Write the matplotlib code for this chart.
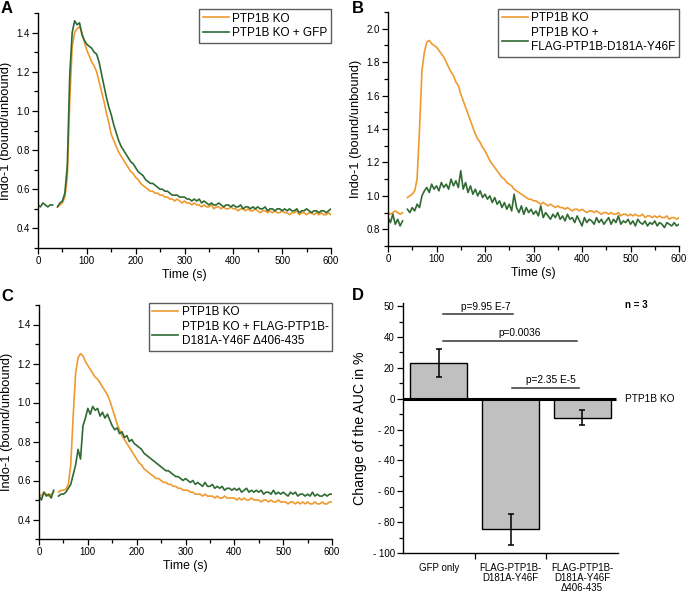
import numpy as np
import matplotlib
matplotlib.use("Agg")
import matplotlib.pyplot as plt
from matplotlib.ticker import MultipleLocator

plt.rcParams['font.family'] = ['Liberation Sans', 'DejaVu Sans']

ORANGE = '#ee9a2e'
GREEN = '#2f6a33'
nan = np.nan

# sampling times of the Indo-1 traces (s)
time_s = np.arange(0, 601, 5)

# panel A
a_ko = [
    nan, nan, nan, nan, nan, nan, nan, nan, 0.51, 0.52,
    0.53, 0.56, 0.66, 1.05, 1.33, 1.40, 1.42, 1.43, 1.40, 1.35,
    1.31, 1.28, 1.25, 1.23, 1.20, 1.15, 1.10, 1.05, 0.99, 0.94,
    0.88, 0.85, 0.82, 0.79, 0.77, 0.75, 0.73, 0.71, 0.69, 0.68,
    0.66, 0.65, 0.63, 0.62, 0.61, 0.60, 0.59, 0.59, 0.58, 0.58,
    0.57, 0.57, 0.56, 0.56, 0.55, 0.55, 0.54, 0.55, 0.54, 0.53,
    0.54, 0.53, 0.53, 0.52, 0.53, 0.52, 0.52, 0.51, 0.52, 0.51,
    0.51, 0.52, 0.50, 0.51, 0.51, 0.50, 0.51, 0.50, 0.50, 0.51,
    0.50, 0.50, 0.49, 0.50, 0.50, 0.49, 0.50, 0.49, 0.49, 0.50,
    0.49, 0.48, 0.49, 0.49, 0.48, 0.49, 0.48, 0.49, 0.48, 0.48,
    0.49, 0.48, 0.48, 0.47, 0.48, 0.48, 0.49, 0.47, 0.48, 0.48,
    0.47, 0.48, 0.48, 0.47, 0.48, 0.47, 0.48, 0.47, 0.47, 0.48,
    0.47]
a_gfp = [
    0.52, 0.51, 0.53, 0.52, 0.51, 0.52, 0.52, nan, 0.51, 0.53,
    0.54, 0.58, 0.72, 1.18, 1.40, 1.46, 1.44, 1.45, 1.39, 1.36,
    1.34, 1.33, 1.32, 1.30, 1.29, 1.25, 1.19, 1.13, 1.07, 1.02,
    0.98, 0.93, 0.89, 0.85, 0.82, 0.80, 0.78, 0.76, 0.74, 0.73,
    0.71, 0.69, 0.68, 0.67, 0.65, 0.64, 0.63, 0.63, 0.62, 0.61,
    0.60, 0.60, 0.59, 0.59, 0.58, 0.57, 0.57, 0.57, 0.56, 0.56,
    0.56, 0.55, 0.55, 0.54, 0.55, 0.54, 0.55, 0.53, 0.54, 0.53,
    0.52, 0.53, 0.52, 0.52, 0.53, 0.52, 0.51, 0.52, 0.52, 0.51,
    0.52, 0.51, 0.51, 0.52, 0.50, 0.51, 0.51, 0.50, 0.51, 0.50,
    0.51, 0.50, 0.50, 0.51, 0.49, 0.50, 0.50, 0.49, 0.50, 0.50,
    0.49, 0.50, 0.49, 0.50, 0.49, 0.49, 0.50, 0.48, 0.49, 0.49,
    0.50, 0.49, 0.48, 0.49, 0.49, 0.48, 0.49, 0.49, 0.48, 0.49,
    0.50]

# panel B
b_ko = [
    0.90, 0.89, 0.90, 0.91, 0.90, 0.89, 0.90, nan, 0.99, 1.00,
    1.01, 1.03, 1.10, 1.40, 1.75, 1.86, 1.92, 1.93, 1.91, 1.90,
    1.89, 1.87, 1.85, 1.83, 1.80, 1.77, 1.74, 1.72, 1.68, 1.66,
    1.61, 1.57, 1.53, 1.49, 1.45, 1.41, 1.37, 1.34, 1.32, 1.29,
    1.27, 1.24, 1.21, 1.19, 1.17, 1.15, 1.13, 1.11, 1.10, 1.08,
    1.07, 1.06, 1.04, 1.03, 1.02, 1.01, 1.00, 0.99, 0.98, 0.98,
    0.97, 0.97, 0.96, 0.95, 0.96, 0.95, 0.94, 0.95, 0.94, 0.93,
    0.94, 0.93, 0.93, 0.92, 0.93, 0.92, 0.91, 0.92, 0.92, 0.91,
    0.92, 0.91, 0.90, 0.91, 0.91, 0.90, 0.91, 0.90, 0.89, 0.90,
    0.90, 0.89, 0.90, 0.89, 0.89, 0.90, 0.88, 0.89, 0.89, 0.88,
    0.89, 0.88, 0.89, 0.88, 0.88, 0.89, 0.87, 0.88, 0.88, 0.87,
    0.88, 0.87, 0.88, 0.87, 0.87, 0.88, 0.86, 0.87, 0.87, 0.86,
    0.87]
b_flag = [
    0.87, 0.84, 0.89, 0.83, 0.86, 0.82, 0.85, nan, 0.92, 0.90,
    0.93, 0.91, 0.95, 0.93, 1.00, 1.03, 1.05, 1.02, 1.07, 1.04,
    1.06, 1.03, 1.08, 1.05, 1.07, 1.04, 1.10, 1.06, 1.09, 1.05,
    1.15, 1.04, 1.08, 1.02, 1.06, 1.01, 1.04, 1.00, 1.03, 0.99,
    1.01, 0.98, 1.00, 0.96, 0.99, 0.95, 0.97, 0.93, 0.96, 0.92,
    0.95, 0.91, 1.01, 0.93, 0.90, 0.94, 0.89, 0.93, 0.90, 0.92,
    0.89, 0.91, 0.88, 0.94, 0.87, 0.90, 0.88, 0.86, 0.89, 0.87,
    0.90, 0.86, 0.88, 0.85, 0.89, 0.86, 0.87, 0.84, 0.88, 0.85,
    0.82, 0.87, 0.84, 0.86, 0.85, 0.83, 0.87, 0.84, 0.86, 0.83,
    0.85, 0.87, 0.83, 0.86, 0.84, 0.88, 0.83, 0.85, 0.84, 0.86,
    0.83, 0.85, 0.82, 0.86, 0.84, 0.83, 0.85, 0.82, 0.84, 0.83,
    0.85, 0.82, 0.84, 0.83, 0.81, 0.84, 0.83, 0.82, 0.84, 0.82,
    0.83]

# panel C
c_ko = [
    0.53, 0.52, 0.54, 0.53, 0.52, 0.53, 0.54, nan, 0.54, 0.55,
    0.55, 0.555, 0.58, 0.68, 0.93, 1.15, 1.23, 1.25, 1.24, 1.21,
    1.19, 1.17, 1.15, 1.13, 1.12, 1.10, 1.08, 1.06, 1.04, 1.01,
    0.97, 0.93, 0.89, 0.86, 0.83, 0.81, 0.79, 0.77, 0.75, 0.73,
    0.71, 0.69, 0.68, 0.66, 0.65, 0.64, 0.63, 0.62, 0.61, 0.61,
    0.60, 0.59, 0.59, 0.58, 0.58, 0.57, 0.57, 0.56, 0.56, 0.55,
    0.55, 0.55, 0.54, 0.54, 0.53, 0.53, 0.53, 0.52, 0.53, 0.52,
    0.52, 0.52, 0.51, 0.52, 0.51, 0.51, 0.52, 0.51, 0.51, 0.51,
    0.51, 0.50, 0.51, 0.50, 0.51, 0.50, 0.50, 0.51, 0.50, 0.50,
    0.50, 0.49, 0.50, 0.50, 0.49, 0.50, 0.49, 0.49, 0.50, 0.49,
    0.49, 0.49, 0.48, 0.49, 0.49, 0.48, 0.49, 0.48, 0.49, 0.48,
    0.49, 0.48, 0.48, 0.49, 0.48, 0.48, 0.49, 0.48, 0.48, 0.49,
    0.49]
c_flag = [
    0.52, 0.50, 0.54, 0.52, 0.53, 0.51, 0.55, nan, 0.52, 0.53,
    0.53, 0.54, 0.56, 0.58, 0.63, 0.68, 0.76, 0.71, 0.88, 0.92,
    0.97, 0.94, 0.98, 0.96, 0.97, 0.93, 0.95, 0.92, 0.94, 0.91,
    0.88, 0.86, 0.87, 0.84, 0.85, 0.82, 0.83, 0.80, 0.81, 0.79,
    0.78, 0.77, 0.76, 0.74, 0.73, 0.72, 0.71, 0.70, 0.69, 0.68,
    0.67, 0.66, 0.65, 0.65, 0.64, 0.63, 0.62, 0.62, 0.61, 0.60,
    0.61, 0.60, 0.59, 0.60, 0.58, 0.59, 0.58, 0.57, 0.59, 0.57,
    0.57, 0.58, 0.56, 0.57, 0.56, 0.57, 0.55, 0.56, 0.56, 0.55,
    0.56, 0.55, 0.56, 0.54, 0.55, 0.56, 0.54, 0.55, 0.54, 0.55,
    0.54, 0.55, 0.53, 0.54, 0.54, 0.53, 0.55, 0.53, 0.54, 0.53,
    0.54, 0.53, 0.52, 0.54, 0.53, 0.54, 0.52, 0.53, 0.53, 0.52,
    0.53, 0.52, 0.54, 0.52, 0.53, 0.52, 0.52, 0.53, 0.52, 0.53,
    0.53]

# panel D
auc_groups = ['GFP only', 'FLAG-PTP1B-\nD181A-Y46F', 'FLAG-PTP1B-\nD181A-Y46F\n\u0394406-435']
auc_change = [23.3, -84.5, -12.2]
auc_err = [9.2, 10.0, 5.1]
sig_labels = ['p=9.95 E-7', 'p=0.0036', 'p=2.35 E-5']
sig_from = [0.06, 0.06, 1.02]
sig_to = [1.04, 1.93, 1.95]
sig_level = [54.6, 37.2, 7.2]

W, H = 687, 596
fig = plt.figure(figsize=(W / 100, H / 100), dpi=100)


def px_axes(left, top, right, bottom):
    return fig.add_axes([left / W, 1 - bottom / H, (right - left) / W, (bottom - top) / H])


def style(ax):
    for s in ('top', 'right'):
        ax.spines[s].set_visible(False)
    for s in ('left', 'bottom'):
        ax.spines[s].set_linewidth(1.0)
    ax.tick_params(which='major', direction='out', length=4, width=0.9, labelsize=7, pad=2)
    ax.tick_params(which='minor', direction='out', length=3, width=0.9)


def trace_panel(box, ko, other, other_label, ylim, yticks, legend_top):
    ax = px_axes(*box)
    style(ax)
    ax.plot(time_s, ko, color=ORANGE, lw=1.2, label='PTP1B KO')
    ax.plot(time_s, other, color=GREEN, lw=1.2, label=other_label)
    ax.set_xlim(0, 600)
    ax.set_ylim(*ylim)
    ax.set_xticks(range(0, 601, 100))
    ax.xaxis.set_minor_locator(MultipleLocator(50))
    ax.set_yticks(yticks)
    ax.set_yticklabels([f'{v:.1f}' for v in yticks])
    ax.yaxis.set_minor_locator(MultipleLocator(0.1))
    ax.set_xlabel('Time (s)', fontsize=8.8, labelpad=2)
    ax.set_ylabel('Indo-1 (bound/unbound)', fontsize=9.3, labelpad=3)
    leg = ax.legend(loc='upper right', bbox_to_anchor=(1.0, legend_top), borderaxespad=0,
                    fontsize=8.5, frameon=True, fancybox=False, edgecolor='#333333',
                    handlelength=2.2, handletextpad=0.3, labelspacing=0.25,
                    borderpad=0.3)
    leg.get_frame().set_linewidth(1.0)
    return ax


trace_panel((38, 13, 331, 248), a_ko, a_gfp, 'PTP1B KO + GFP',
            (0.3, 1.5), [0.4, 0.6, 0.8, 1.0, 1.2, 1.4], 1.017)
trace_panel((388, 12, 679, 246), b_ko, b_flag, 'PTP1B KO +\nFLAG-PTP1B-D181A-Y46F',
            (0.7, 2.1), [0.8, 1.0, 1.2, 1.4, 1.6, 1.8, 2.0], 1.013)
trace_panel((39, 305, 332, 539), c_ko, c_flag, 'PTP1B KO + FLAG-PTP1B-\nD181A-Y46F \u0394406-435',
            (0.3, 1.5), [0.4, 0.6, 0.8, 1.0, 1.2, 1.4], 1.009)

# bar panel
ax = px_axes(403, 303, 618, 553)
style(ax)
xpos = np.arange(len(auc_groups))
ax.bar(xpos, auc_change, width=0.8, color='#c0c0c0', edgecolor='black', linewidth=1.0,
       yerr=auc_err, capsize=2.5, error_kw=dict(elinewidth=1.1, capthick=1.1, ecolor='black'),
       zorder=2)
ax.plot([-0.5, 2.47], [0, 0], color='black', lw=2.2, zorder=3, clip_on=False,
        solid_capstyle='butt')
ax.set_xlim(-0.5, 2.5)
ax.set_ylim(-100, 62)
ax.set_xticks([0.5, 1.5])
ax.set_xticklabels([])
ax.set_xticks(xpos, minor=True)
ax.set_xticklabels(auc_groups, minor=True, fontsize=7, linespacing=1.0)
ax.tick_params(axis='x', which='minor', length=0, pad=7)
yt = [60, 40, 20, 0, -20, -40, -60, -80, -100]
ax.set_yticks(yt)
ax.set_yticklabels(['50', '40', '20', '0', '- 20', '- 40', '- 60', '- 80', '- 100'])
ax.yaxis.set_minor_locator(MultipleLocator(10))
ax.set_ylabel('Change of the AUC in %', fontsize=10.2, labelpad=4)

sig_text_x = [0.66, 1.13, 1.57]
for x0, x1, lev, lab, tx in zip(sig_from, sig_to, sig_level, sig_labels, sig_text_x):
    ax.plot([x0, x1], [lev, lev], color='#333333', lw=1.1, zorder=3)
    ax.text(tx, lev + 1.8, lab, ha='center', va='bottom', fontsize=7.3)
ax.text(2.6, 0, 'PTP1B KO', ha='left', va='center', fontsize=7.3, clip_on=False)
fig.text(625 / W, 1 - 305 / H, 'n = 3', fontsize=7, fontweight='bold', ha='left', va='center')

for letter, x, y in [('A', 1, 1), ('B', 352, 1), ('C', 1, 289), ('D', 352, 288)]:
    fig.text(x / W, 1 - y / H, letter, fontsize=12, fontweight='bold', ha='left', va='top')

fig.savefig('out.png', dpi=100)
